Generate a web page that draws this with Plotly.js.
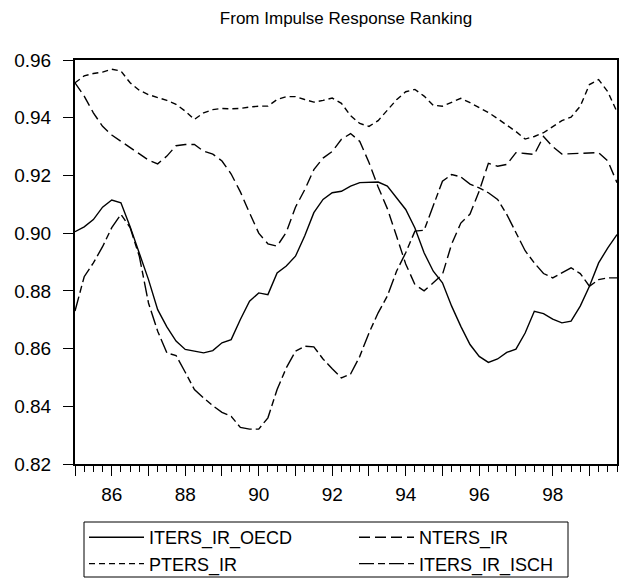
<!DOCTYPE html>
<html>
<head>
<meta charset="utf-8">
<script src="https://cdn.plot.ly/plotly-3.0.1.min.js"></script>
<style>
  html, body { margin: 0; padding: 0; background: #fff; }
  #chart { width: 626px; height: 579px; }
</style>
</head>
<body>
<div id="chart"></div>
<script>
// Quarterly observations 1985Q1 .. 1999Q4
const startYear = 1985;
const nObs = 60;
const xTickYears = [1985, 1986, 1987, 1988, 1989, 1990, 1991, 1992, 1993, 1994, 1995, 1996, 1997, 1998, 1999];
const xTickLabels = ["", "86", "", "88", "", "90", "", "92", "", "94", "", "96", "", "98", ""];

const seriesNames = ["ITERS_IR_OECD", "NTERS_IR", "PTERS_IR", "ITERS_IR_ISCH"];

const itersOECD = [
  0.9005, 0.9022, 0.9047, 0.9090, 0.9115, 0.9105, 0.9022, 0.8932, 0.8839, 0.8735,
  0.8675, 0.8626, 0.8597, 0.8591, 0.8585, 0.8593, 0.8620, 0.8631, 0.8701, 0.8764,
  0.8793, 0.8787, 0.8862, 0.8886, 0.8920, 0.8990, 0.9071, 0.9117, 0.9140, 0.9145,
  0.9163, 0.9175, 0.9175, 0.9177, 0.9163, 0.9123, 0.9082, 0.9018, 0.8932, 0.8868,
  0.8828, 0.8747, 0.8677, 0.8614, 0.8573, 0.8552, 0.8564, 0.8587, 0.8598, 0.8654,
  0.8729, 0.8721, 0.8702, 0.8689, 0.8695, 0.8747, 0.8816, 0.8897, 0.8949, 0.8995
];

const ntersIR = [
  0.9521, 0.9475, 0.9417, 0.9370, 0.9340, 0.9318, 0.9298, 0.9275, 0.9253, 0.9240,
  0.9267, 0.9303, 0.9307, 0.9307, 0.9284, 0.9274, 0.9250, 0.9205, 0.9143, 0.9070,
  0.9000, 0.8963, 0.8955, 0.9003, 0.9090, 0.9150, 0.9220, 0.9260, 0.9283, 0.9325,
  0.9345, 0.9318, 0.9245, 0.9160, 0.9085, 0.8990, 0.8893, 0.8822, 0.8800, 0.8828,
  0.8857, 0.8962, 0.9035, 0.9066, 0.9146, 0.9242, 0.9232, 0.9238, 0.9279, 0.9276,
  0.9273, 0.9335, 0.9300, 0.9274, 0.9275, 0.9275, 0.9277, 0.9279, 0.9250, 0.9175
];

const ptersIR = [
  0.9521, 0.9545, 0.9553, 0.9558, 0.9568, 0.9562, 0.9521, 0.9495, 0.9480, 0.9470,
  0.9460, 0.9446, 0.9423, 0.9394, 0.9417, 0.9428, 0.9432, 0.9431, 0.9432, 0.9437,
  0.9440, 0.9440, 0.9463, 0.9473, 0.9473, 0.9463, 0.9454, 0.9460, 0.9468, 0.9450,
  0.9407, 0.9380, 0.9370, 0.9390, 0.9427, 0.9462, 0.9490, 0.9498, 0.9475, 0.9443,
  0.9440, 0.9453, 0.9467, 0.9452, 0.9435, 0.9418, 0.9397, 0.9376, 0.9352, 0.9326,
  0.9335, 0.9348, 0.9370, 0.9390, 0.9402, 0.9440, 0.9515, 0.9532, 0.9490, 0.9420
];

const itersISCH = [
  0.8730, 0.8849, 0.8897, 0.8953, 0.9019, 0.9065, 0.9019, 0.8920, 0.8758, 0.8660,
  0.8585, 0.8576, 0.8518, 0.8458, 0.8429, 0.8402, 0.8379, 0.8365, 0.8327, 0.8321,
  0.8321, 0.8360, 0.8458, 0.8533, 0.8591, 0.8608, 0.8606, 0.8564, 0.8530, 0.8498,
  0.8512, 0.8573, 0.8654, 0.8724, 0.8782, 0.8868, 0.8932, 0.9007, 0.9010, 0.9094,
  0.9180, 0.9203, 0.9195, 0.9170, 0.9157, 0.9140, 0.9117, 0.9065, 0.9003, 0.8939,
  0.8897, 0.8860, 0.8845, 0.8862, 0.8880, 0.8860, 0.8816, 0.8839, 0.8845, 0.8845
];

const dates = [];
for (let i = 0; i < nObs; i++) dates.push(startYear + i / 4);

const FONT = "'Liberation Sans', Arial, Helvetica, sans-serif";

function mk(name, y, dash) {
  return {
    x: dates, y: y, name: name, type: 'scatter', mode: 'lines',
    line: { color: '#000000', width: 1.4, dash: dash },
    hoverinfo: 'x+y+name'
  };
}

const traces = [
  mk(seriesNames[0], itersOECD, 'solid'),
  mk(seriesNames[1], ntersIR, '11px,5px'),
  mk(seriesNames[2], ptersIR, '6px,4px'),
  mk(seriesNames[3], itersISCH, '15px,4px,7px,4px')
];

// plot area in pixels (for placing the legend frame on the paper)
const W = 626, H = 579, ML = 75, MR = 9, MT = 60, MB = 115;
const pw = W - ML - MR, ph = H - MT - MB;
const px = v => (v - ML) / pw;
const py = v => (H - MB - v) / ph;

const layout = {
  width: W, height: H,
  margin: { l: ML, r: MR, t: MT, b: MB, pad: 0, autoexpand: false },
  paper_bgcolor: '#ffffff', plot_bgcolor: '#ffffff',
  font: { family: FONT, size: 19, color: '#000000' },
  title: {
    text: 'From Impulse Response Ranking',
    font: { family: FONT, size: 17, color: '#000000' },
    x: 0.5, xref: 'paper', xanchor: 'center',
    y: 1 - 18 / H, yref: 'container', yanchor: 'middle'
  },
  showlegend: true,
  legend: {
    orientation: 'h',
    x: 84 / W, xanchor: 'left', xref: 'container',
    y: 1 - 519 / H, yanchor: 'top', yref: 'container',
    borderwidth: 0,
    bgcolor: 'rgba(0,0,0,0)',
    font: { family: FONT, size: 18, color: '#000000' },
    entrywidth: 200, entrywidthmode: 'pixels',
    itemwidth: 55,
    tracegroupgap: 0,
    traceorder: 'normal'
  },
  shapes: [{
    type: 'rect', xref: 'paper', yref: 'paper',
    x0: px(84), x1: px(568), y0: py(577), y1: py(522),
    line: { color: '#000000', width: 1 }, fillcolor: 'rgba(0,0,0,0)', layer: 'below'
  }],
  xaxis: {
    range: [startYear, startYear + (nObs - 1) / 4],
    tickmode: 'array', tickvals: xTickYears, ticktext: xTickLabels,
    ticks: 'outside', ticklen: 10, tickwidth: 1, tickcolor: '#000000',
    ticklabelstandoff: 2,
    showline: true, linecolor: '#000000', linewidth: 2, mirror: true,
    showgrid: false, zeroline: false,
    tickfont: { family: FONT, size: 19, color: '#000000' },
    minor: { tickmode: 'linear', tick0: startYear, dtick: 0.25, ticks: 'outside', ticklen: 6, tickwidth: 1, tickcolor: '#000000', showgrid: false },
    fixedrange: true
  },
  yaxis: {
    range: [0.82, 0.96],
    tickmode: 'linear', tick0: 0.82, dtick: 0.02, tickformat: '.2f',
    ticks: 'outside', ticklen: 10, tickwidth: 1, tickcolor: '#000000',
    ticklabelstandoff: 8,
    showline: true, linecolor: '#000000', linewidth: 2, mirror: true,
    showgrid: false, zeroline: false,
    tickfont: { family: FONT, size: 19, color: '#000000' },
    fixedrange: true
  }
};

Plotly.newPlot('chart', traces, layout, { displayModeBar: false, staticPlot: true });
</script>
</body>
</html>
